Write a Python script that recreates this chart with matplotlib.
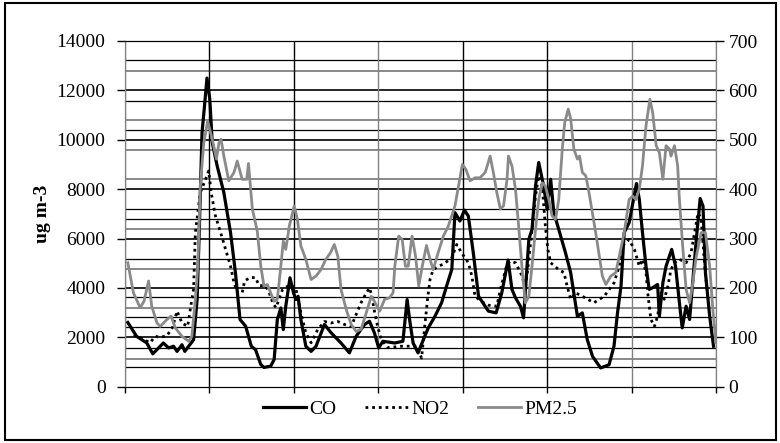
import numpy as np
import matplotlib
matplotlib.use('Agg')
import matplotlib.pyplot as plt
from matplotlib.patches import Rectangle

plt.rcParams['font.family'] = ['Liberation Serif', 'DejaVu Serif']

# hourly series over one week (hour, value)
co_hours = [0.8, 3.3, 6.2, 7.9, 10.9, 12.4, 13.8, 14.8, 16.2, 17, 18.1, 19.5, 20.5, 21.1, 21.9, 22.6, 23.3, 24.1,
            24.8, 26.2, 28.1, 30, 31.4, 32.7, 34.3, 35.9, 37.1, 38.6, 39.5, 41.4, 42.4, 43.3, 44.3, 45, 45.7, 46.9,
            47.9, 48.6, 49.2, 50, 51.4, 52.9, 54.3, 56.7, 58.6, 61.4, 63.8, 65.7, 68.1, 69.5, 70.9, 72.1, 73.3,
            76.7, 79, 80.2, 80.9, 81.9, 83.3, 84.8, 86.2, 88.1, 90, 91.4, 92.9, 93.8, 95.2, 96.5, 97.6, 99, 100.5,
            103.3, 105.5, 107.1, 108.9, 110, 111, 112.4, 113.3, 114.8, 115.7, 116.7, 117.6, 119, 120, 121, 121.9,
            123.3, 125.2, 126.7, 128.6, 130, 131.4, 132.9, 135.2, 137.6, 139, 140, 141, 141.9, 143.3, 145.4, 146.2,
            147.1, 148.1, 149, 150, 151.4, 151.9, 152.9, 153.8, 155.4, 156.5, 157.6, 158.4, 159.5, 160.5, 161.2,
            162.4, 163.5, 164.3, 165, 166.2, 167.3]
co_vals = [2600, 2040, 1770, 1330, 1770, 1570, 1640, 1430, 1700, 1430, 1640, 1900, 3530, 6250, 10300, 11370, 12500,
           11650, 9890, 8940, 7860, 6240, 4610, 2720, 2450, 1640, 1500, 900, 780, 830, 1100, 2720, 3190, 2310, 3260,
           4410, 3800, 3530, 3660, 2720, 1640, 1430, 1640, 2520, 2180, 1770, 1370, 2040, 2520, 2650, 2180, 1570,
           1840, 1770, 1840, 3530, 2720, 1770, 1370, 1900, 2380, 2850, 3400, 4070, 4750, 7050, 6710, 7150, 6910,
           5430, 3660, 3060, 2990, 3800, 5130, 3940, 3600, 3260, 2790, 5970, 6370, 8130, 9080, 8130, 7180, 8400,
           7050, 6370, 5430, 4610, 2850, 2990, 1910, 1230, 760, 890, 1640, 2990, 4070, 6240, 6640, 8230, 7590, 6240,
           4880, 3940, 4010, 4140, 2850, 4210, 4880, 5560, 4880, 3400, 2380, 3260, 2720, 3940, 5970, 7620, 7320,
           4610, 2850, 1640]

no2_hours = [2.5, 5, 7.1, 8.6, 10, 11.9, 13.5, 14.8, 16.2, 17.8, 19, 19.5, 20, 21.4, 22.9, 23.8, 24.5, 25.7, 27.1,
             28.6, 30, 31, 32, 33.3, 34, 35.5, 37.1, 38.1, 40, 41, 42, 42.9, 43.8, 44.8, 47.1, 48.6, 50, 51.4, 52.9,
             54.8, 56.7, 58.6, 60.5, 62.4, 64.3, 65.7, 67.1, 68.6, 69.5, 70.2, 70.9, 71.9, 72.9, 74.8, 78.6, 82.9,
             84.3, 85.2, 86, 86.7, 87.6, 89, 90.5, 92.9, 94.3, 95.7, 97.6, 98.6, 99.5, 101.4, 103.3, 105.7, 106.7,
             108.6, 109.5, 111, 112.9, 113.8, 114.8, 115.7, 116.7, 117.6, 118.6, 119.5, 120.2, 121, 123.3, 124.8,
             125.7, 126.7, 128.1, 130, 133.3, 136.2, 139, 140.5, 141.4, 143.3, 144.8, 146.2, 147.1, 148.1, 148.6,
             149.5, 150.5, 151.4, 152.4, 153.3, 154.3, 155.2, 156.2, 157.6, 159.5, 160.9, 161.9, 162.9, 163.8,
             164.8, 165.7]
no2_vals = [105, 97, 89, 102, 100, 103, 120, 153, 129, 122, 177, 197, 312, 393, 420, 437, 393, 346, 314, 278, 244,
            210, 190, 190, 214, 221, 221, 205, 204, 190, 170, 160, 177, 197, 207, 197, 150, 109, 89, 116, 132, 129,
            132, 126, 122, 146, 170, 190, 200, 183, 153, 119, 95, 79, 82, 82, 58, 122, 177, 217, 237, 244, 248, 261,
            288, 271, 251, 224, 183, 172, 165, 163, 197, 248, 254, 251, 224, 197, 258, 319, 386, 427, 406, 325, 278,
            251, 237, 231, 203, 177, 190, 183, 170, 183, 210, 244, 285, 298, 278, 244, 258, 231, 190, 136, 122, 143,
            190, 177, 203, 237, 251, 258, 251, 271, 312, 352, 339, 244, 177]

pm_hours = [0.8, 2.4, 4.3, 5.4, 6.7, 7.6, 9.1, 10, 11.9, 13.1, 14.3, 16.2, 18.1, 19, 20, 20.7, 21.4, 22.4, 23.5,
            24.8, 26, 26.7, 27.3, 28.1, 29.5, 31, 31.9, 33.3, 34.6, 35.1, 36.2, 37.6, 38.6, 39.5, 40.5, 41.4, 42.4,
            43.3, 44.3, 45, 45.7, 46.7, 48.1, 49, 50, 51.4, 52.9, 54.3, 55.7, 57.1, 58.4, 59.5, 60.5, 61.4, 62.9,
            64.3, 65.7, 67.1, 68.6, 70, 70.9, 72.4, 73.8, 75.2, 76.2, 76.7, 77.8, 78.8, 79.7, 80.5, 81.6, 82.6, 83.5,
            84.5, 85.7, 86.7, 87.6, 89, 90.5, 91.9, 93.8, 94.8, 95.9, 96.9, 98.1, 99.5, 100.9, 102.4, 103.8, 104.8,
            105.7, 106.7, 107.6, 108.6, 109, 110, 111, 111.9, 112.9, 113.8, 114.8, 115.7, 116.7, 117.6, 118.6,
            119.5, 120.5, 121.4, 122.4, 123.3, 124.3, 125, 126, 126.7, 127.6, 128.6, 129.2, 130, 131, 131.9, 133.8,
            135.7, 136.7, 138.1, 139.5, 140.5, 141.9, 143.3, 144.3, 145.2, 146.2, 147.1, 148.1, 149.2, 150, 151,
            151.9, 152.9, 153.8, 154.8, 155.2, 156.2, 157.1, 157.6, 158.6, 159.5, 160.5, 161.4, 162.4, 163.8, 165,
            166.2, 167.1, 168]
pm_vals = [251, 190, 160, 173, 214, 163, 129, 122, 136, 143, 119, 102, 92, 102, 177, 244, 406, 494, 538, 501, 461,
           494, 501, 467, 417, 434, 457, 420, 420, 452, 360, 315, 244, 204, 207, 190, 173, 177, 244, 295, 278, 325,
           366, 339, 285, 258, 217, 224, 237, 258, 271, 288, 264, 197, 156, 126, 112, 116, 150, 183, 173, 153, 177,
           180, 190, 244, 305, 298, 244, 244, 305, 264, 204, 244, 286, 258, 237, 271, 305, 325, 366, 406, 450, 440,
           417, 423, 423, 434, 467, 430, 393, 360, 366, 420, 467, 447, 400, 325, 237, 170, 183, 244, 319, 379, 413,
           406, 379, 346, 339, 379, 481, 535, 562, 542, 481, 461, 467, 434, 427, 393, 312, 224, 207, 224, 231, 264,
           312, 379, 386, 379, 400, 447, 528, 582, 555, 488, 474, 420, 488, 481, 467, 488, 447, 379, 278, 197, 170,
           210, 264, 312, 312, 244, 156, 89]

left_ticks = [0, 2000, 4000, 6000, 8000, 10000, 12000, 14000]
right_ticks = [0, 100, 200, 300, 400, 500, 600, 700]

# extra horizontal rules seen in the original (left-axis units)
black_rules = [785, 1555, 2405, 2810, 3620, 5160, 6780, 7185, 10385, 11580, 13220]
gray_rules = [1120, 3200, 4755, 6375, 8400, 9590, 10800, 12800]

fig = plt.figure(figsize=(7.8, 4.43), dpi=100)
ax = fig.add_axes([125 / 780, 1 - 386.7 / 443, 591 / 780, 345.7 / 443])
ax2 = ax.twinx()

ax.set_xlim(0, 168)
ax.set_ylim(0, 14000)
ax2.set_ylim(0, 700)

for v in black_rules:
    ax.axhline(v, color='black', lw=0.9, zorder=0)
for v in gray_rules:
    ax.axhline(v, color='#808080', lw=1.3, zorder=0)
for v in left_ticks[1:-1]:
    ax.axhline(v, color='black', lw=1.2, zorder=0)
vcols = ['#808080', 'black', 'black', '#808080', 'black', 'black', '#808080', '#808080']
for i, c in enumerate(vcols):
    ax.axvline(i * 24, color=c, lw=1.0, zorder=0)

l1, = ax.plot(co_hours, co_vals, color='black', lw=2.3, label='CO', zorder=3)
l2, = ax2.plot(no2_hours, no2_vals, color='black', lw=2.0, linestyle=(0, (1, 1.4)), label='NO2')
l3, = ax2.plot(pm_hours, pm_vals, color='#8a8a8a', lw=2.0, label='PM2.5')

ax.set_yticks(left_ticks)
ax.set_yticklabels([str(t) for t in left_ticks])
ax2.set_yticks(right_ticks)
ax2.set_yticklabels([str(t) for t in right_ticks])
ax.set_xticks(np.arange(0, 169, 24))
ax.set_xticklabels([])
ax.tick_params(axis='y', direction='out', length=6, width=1, labelsize=14, pad=8)
ax2.tick_params(axis='y', direction='out', length=6, width=1, labelsize=14, pad=3)
ax.tick_params(axis='x', direction='out', length=4, width=1)

for a in (ax, ax2):
    a.spines['left'].set_color('#808080')
    a.spines['right'].set_color('#808080')
    a.spines['top'].set_color('black')
    a.spines['bottom'].set_color('black')

ax.set_ylabel('ug m-3', fontsize=14, fontweight='bold', labelpad=4)

fig.legend(handles=[l1, l2, l3], loc='center', bbox_to_anchor=(420 / 780, 1 - 409 / 443), ncol=3,
           frameon=False, fontsize=14, handlelength=2.2, handletextpad=0.15, columnspacing=1.5)

fig.patches.append(Rectangle((5 / 780, 3 / 443), 771 / 780, 437 / 443, transform=fig.transFigure,
                             fill=False, edgecolor='black', lw=1.5))

fig.savefig('out.png', dpi=100)
